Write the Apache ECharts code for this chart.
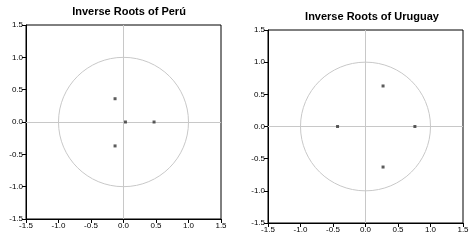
<!DOCTYPE html>
<html>
<head>
<meta charset="utf-8">
<script src="https://cdn.jsdelivr.net/npm/echarts@6/dist/echarts.min.js"></script>
<style>
  html, body { margin: 0; padding: 0; background: #fff; }
  #chart { width: 475px; height: 241px; }
</style>
</head>
<body>
<div id="chart"></div>
<script>
var peruRoots = [[-0.13, 0.36], [0.03, 0.0], [0.47, 0.0], [-0.13, -0.37]]
var uruguayRoots = [[0.27, 0.63], [-0.43, 0.0], [0.76, 0.0], [0.27, -0.63]]
var titles = ['Inverse Roots of Perú', 'Inverse Roots of Uruguay']
var axisMin = -1.5
var axisMax = 1.5
var axisStep = 0.5

var chart = echarts.init(document.getElementById('chart'))

var grey = '#c8c8c8'
var font = 'Liberation Sans, Arial, sans-serif'

function makeAxis(idx) {
  return {
    type: 'value',
    gridIndex: idx,
    min: axisMin,
    max: axisMax,
    interval: axisStep,
    axisLine: { show: true, onZero: false, lineStyle: { color: '#000', width: 1 } },
    axisTick: { show: true, length: 4, lineStyle: { color: '#000' } },
    axisLabel: {
      color: '#000', fontSize: 8, fontFamily: font, margin: 3,
      formatter: function(v) { return v.toFixed(1) }
    },
    splitLine: { show: false }
  }
}

// unit circle drawn through the axes' own scale
function unitCircle(idx) {
  return {
    type: 'custom',
    xAxisIndex: idx,
    yAxisIndex: idx,
    silent: true,
    data: [[0, 0]],
    renderItem: function(params, api) {
      var c = api.coord([0, 0])
      var r = api.size([1, 1])
      return {
        type: 'ellipse',
        shape: { cx: c[0], cy: c[1], rx: r[0], ry: r[1] },
        style: { fill: null, stroke: grey, lineWidth: 1 }
      }
    },
    z: 1
  }
}

function rootSeries(idx, data) {
  return {
    type: 'scatter',
    xAxisIndex: idx,
    yAxisIndex: idx,
    data: data,
    symbol: 'rect',
    symbolSize: 3,
    itemStyle: { color: '#333' },
    z: 3,
    markLine: {
      silent: true,
      symbol: 'none',
      label: { show: false },
      lineStyle: { color: grey, width: 1, type: 'solid' },
      data: [{ xAxis: 0 }, { yAxis: 0 }],
      z: 1
    }
  }
}

chart.setOption({
  animation: false,
  title: [
    { text: titles[0], left: 124, top: 1, textAlign: 'center',
      textStyle: { fontSize: 11, fontWeight: 'bold', fontFamily: font, color: '#000' } },
    { text: titles[1], left: 367, top: 6, textAlign: 'center',
      textStyle: { fontSize: 11, fontWeight: 'bold', fontFamily: font, color: '#000' } }
  ],
  grid: [
    { left: 26, top: 25, width: 195, height: 194, show: true, borderColor: '#000', borderWidth: 1 },
    { left: 268, top: 30, width: 195, height: 193, show: true, borderColor: '#000', borderWidth: 1 }
  ],
  xAxis: [makeAxis(0), makeAxis(1)],
  yAxis: [makeAxis(0), makeAxis(1)],
  series: [
    unitCircle(0),
    rootSeries(0, peruRoots),
    unitCircle(1),
    rootSeries(1, uruguayRoots)
  ]
})
</script>
</body>
</html>
